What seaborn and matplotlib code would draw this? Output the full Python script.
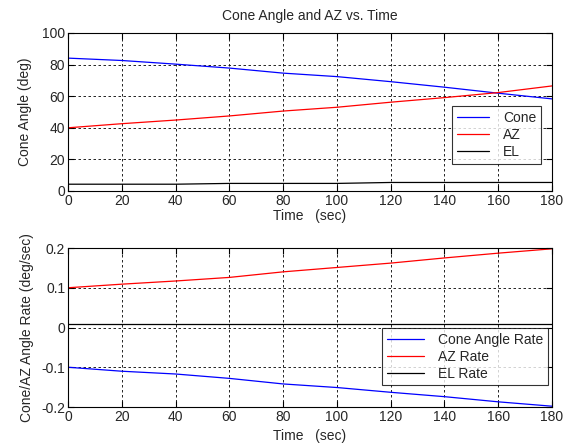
import matplotlib
matplotlib.use("Agg")
import matplotlib.pyplot as plt
import seaborn as sns
import pandas as pd

# time samples (sec)
time = [0, 20, 40, 60, 80, 100, 120, 140, 160, 180]

# angles (deg)
cone = [84.1, 82.6, 80.3, 77.8, 74.6, 72.4, 69.2, 65.7, 61.9, 58.3]
az = [40.0, 42.6, 44.9, 47.5, 50.6, 53.0, 56.2, 59.1, 62.3, 66.5]
el = [4.3, 4.3, 4.3, 4.8, 4.8, 4.8, 5.4, 5.4, 5.4, 5.4]

# rates (deg/sec)
cone_rate = [-0.100, -0.110, -0.117, -0.128, -0.142, -0.151, -0.163, -0.174, -0.187, -0.198]
az_rate = [0.100, 0.109, 0.117, 0.126, 0.140, 0.151, 0.162, 0.175, 0.187, 0.198]
el_rate = [0.008] * len(time)

sns.set_style("white")
plt.rcParams['font.family'] = ['Liberation Sans', 'DejaVu Sans']
plt.rcParams['font.size'] = 10

top = pd.DataFrame({"Time": time * 3,
                    "val": cone + az + el,
                    "name": ["Cone"] * 10 + ["AZ"] * 10 + ["EL"] * 10})
bot = pd.DataFrame({"Time": time * 3,
                    "val": cone_rate + az_rate + el_rate,
                    "name": ["Cone Angle Rate"] * 10 + ["AZ Rate"] * 10 + ["EL Rate"] * 10})

fig = plt.figure(figsize=(5.68, 4.48), dpi=100)
ax1 = fig.add_axes([68/568, 1 - 191/448, 484/568, 158/448])
ax2 = fig.add_axes([68/568, 1 - 407/448, 484/568, 159/448])

pal1 = {"Cone": "blue", "AZ": "red", "EL": "black"}
pal2 = {"Cone Angle Rate": "blue", "AZ Rate": "red", "EL Rate": "black"}

sns.lineplot(data=top, x="Time", y="val", hue="name", palette=pal1, ax=ax1, linewidth=0.9)
sns.lineplot(data=bot, x="Time", y="val", hue="name", palette=pal2, ax=ax2, linewidth=0.9)

for ax in (ax1, ax2):
    ax.set_xlim(0, 180)
    ax.set_xticks(range(0, 181, 20))
    ax.grid(True, color="black", linestyle=(0, (3, 3)), linewidth=0.6)
    ax.tick_params(direction="in", length=4, top=True, right=True, bottom=True, left=True,
                   labelsize=10, pad=2, color="black")
    for s in ax.spines.values():
        s.set_color("black")
        s.set_linewidth(0.8)
    ax.set_xlabel("Time   (sec)", fontsize=10, labelpad=1)

ax1.set_ylim(0, 100)
ax1.set_yticks(range(0, 101, 20))
ax1.set_ylabel("Cone Angle (deg)", fontsize=10, labelpad=7)
ax1.set_title("Cone Angle and AZ vs. Time", fontsize=10, pad=9)
ax1.legend(loc="upper right", bbox_to_anchor=(0.977, 0.54), frameon=True, fancybox=False,
           edgecolor="black", fontsize=10, handlelength=2.3, borderpad=0.35,
           labelspacing=0.22, handletextpad=1.0, borderaxespad=0).get_frame().set_linewidth(0.8)

ax2.set_ylim(-0.2, 0.2)
ax2.set_yticks([-0.2, -0.1, 0, 0.1, 0.2])
ax2.set_yticklabels(["-0.2", "-0.1", "0", "0.1", "0.2"])
ax2.set_ylabel("Cone/AZ Angle Rate (deg/sec)", fontsize=10, labelpad=5)
ax2.xaxis.labelpad = 4
ax2.legend(loc="upper right", bbox_to_anchor=(0.992, 0.499), frameon=True, fancybox=False,
           edgecolor="black", fontsize=10, handlelength=2.7, borderpad=0.35,
           labelspacing=0.22, handletextpad=1.0, borderaxespad=0).get_frame().set_linewidth(0.8)

fig.savefig("out.png", dpi=100)
